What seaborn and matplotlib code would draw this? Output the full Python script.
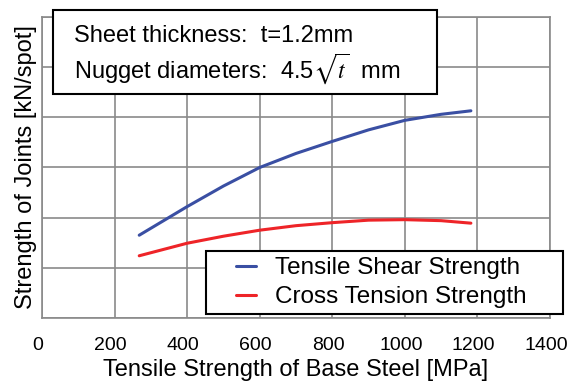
import pandas as pd
import matplotlib.pyplot as plt
import matplotlib.patches as patches
from matplotlib.lines import Line2D
from matplotlib.legend_handler import HandlerLine2D
from matplotlib.transforms import ScaledTranslation
import seaborn as sns

# data
tensile_mpa = [268, 400, 500, 600, 700, 800, 900, 1000, 1100, 1182]
shear_strength = [1.65, 2.22, 2.63, 3.0, 3.28, 3.52, 3.75, 3.94, 4.06, 4.13]
cross_strength = [1.24, 1.49, 1.63, 1.75, 1.84, 1.90, 1.95, 1.96, 1.94, 1.89]
series_names = ['Tensile Shear Strength', 'Cross Tension Strength']
x_ticks = [0, 200, 400, 600, 800, 1000, 1200, 1400]

df = pd.DataFrame({
    'x': tensile_mpa * 2,
    'y': shear_strength + cross_strength,
    'series': [series_names[0]] * len(tensile_mpa) + [series_names[1]] * len(tensile_mpa),
})

sns.set_style("white")
plt.rcParams['font.family'] = ['Liberation Sans', 'DejaVu Sans']
plt.rcParams['mathtext.fontset'] = 'stix'
plt.rcParams['text.color'] = 'black'
plt.rcParams['axes.labelcolor'] = 'black'
plt.rcParams['xtick.color'] = 'black'
plt.rcParams['ytick.color'] = 'black'

fig = plt.figure(figsize=(5.79, 3.81), dpi=100)
ax = fig.add_axes([0.0725, 0.1654, 0.8774, 0.79])

grid_col = '#8a8a8a'
sns.lineplot(data=df, x='x', y='y', hue='series',
             palette=['#3a4fa3', '#ee2428'], linewidth=2.2, ax=ax, legend=True)

ax.set_xlim(0, 1400)
ax.set_ylim(0, 6)
ax.set_xticks(x_ticks)
ax.set_yticks(range(0, 7))
ax.set_yticklabels([])
ax.tick_params(axis='both', length=0, labelsize=14, pad=14, labelcolor='black')
# tick labels sit a little left of their gridlines in the original
for lbl in ax.get_xticklabels():
    lbl.set_transform(lbl.get_transform() + ScaledTranslation(-0.04, 0, fig.dpi_scale_trans))
ax.grid(True, color=grid_col, linewidth=1.2)
for s in ax.spines.values():
    s.set_color(grid_col)
    s.set_linewidth(1.2)
ax.set_xlabel('Tensile Strength of Base Steel [MPa]', fontsize=17, labelpad=3, color='black')
ax.set_ylabel('Strength of Joints [kN/spot]', fontsize=17, color='black')
ax.yaxis.set_label_coords(-0.009, 0.5)

leg = ax.legend(loc='upper left', mode='expand',
                bbox_to_anchor=(206 / 579, 1 - 314 / 381, 357 / 579, 63 / 381),
                bbox_transform=fig.transFigure,
                handler_map={Line2D: HandlerLine2D(marker_pad=1.0)}, numpoints=2,
                fontsize=17.5, frameon=True, fancybox=False, framealpha=1,
                edgecolor='black', handlelength=2.8, handletextpad=-0.2,
                borderpad=0.25, labelspacing=0.3, borderaxespad=0, labelcolor='black')
leg.get_frame().set_linewidth(1.5)
leg.set_zorder(5)

# text box at the top left
box = patches.Rectangle((0.0915, 0.7533), 0.663, 0.2205, transform=fig.transFigure,
                        facecolor='white', edgecolor='black', linewidth=1.5, zorder=10)
fig.add_artist(box)
fig.text(0.128, 0.905, 'Sheet thickness:  t=1.2mm', fontsize=17, va='center', zorder=11, color='black')
fig.text(0.128, 0.821, r'Nugget diameters:  4.5$\sqrt{t}$  mm', fontsize=17, va='center', zorder=11, color='black')

plt.savefig('out.png', dpi=100)
plt.close()
